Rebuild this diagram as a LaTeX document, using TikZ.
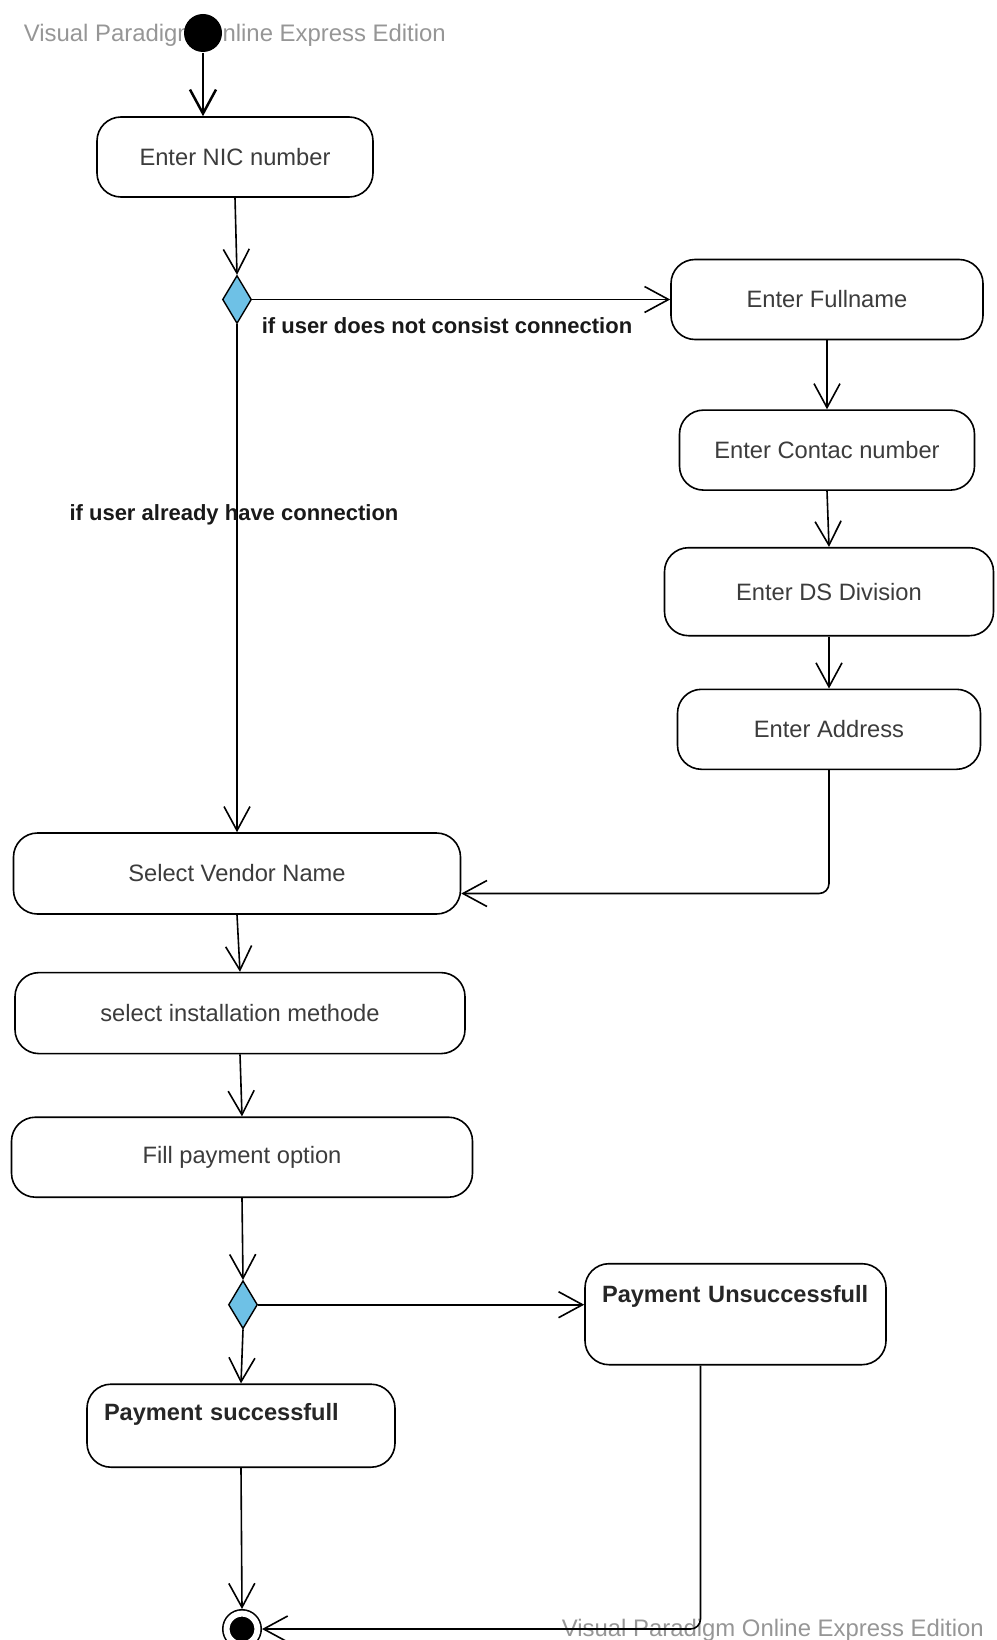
\documentclass[tikz,border=0pt]{standalone}
\usepackage{fontspec}
\setmainfont{Liberation Sans}
\usetikzlibrary{positioning}
\usetikzlibrary{shapes.geometric}
\usetikzlibrary{arrows.meta}
\definecolor{decblue}{RGB}{110,193,230}
\definecolor{txtgray}{RGB}{60,60,60}
\definecolor{wmgray}{RGB}{150,150,150}
\tikzset{>={Straight Barb[length=24pt,width=26pt]}}
\tikzset{act/.style={draw, rounded corners=24pt, line width=1.6pt, inner sep=0pt, fill=white, text=txtgray, font=\fontsize{23.7}{28}\selectfont}}
\tikzset{actb/.style={act, text=black!85, font=\bfseries\fontsize{23.6}{28}\selectfont, align=left, inner xsep=17pt, inner ysep=0pt}}
\tikzset{dec/.style={draw, diamond, fill=decblue, line width=1.4pt, inner sep=0pt, minimum width=29pt, minimum height=48pt}}
\tikzset{lbl/.style={inner sep=0pt, font=\bfseries\fontsize{22}{26}\selectfont, text=black!90}}
\tikzset{wm/.style={inner sep=0pt, anchor=base west, text=wmgray, font=\fontsize{23.9}{28}\selectfont}}

\begin{document}
\begin{tikzpicture}[x=1pt, y=-1pt, line width=1.6pt]
\useasboundingbox (0,0) rectangle (996,1640);
\node (wmtop) [wm] at (23,42) {Visual Paradigm Online Express Edition};
\node (wmbot) [wm] at (561,1636) {Visual Paradigm Online Express Edition};

\node (start) [circle, fill=black, minimum size=38pt, inner sep=0pt] at (203,33) {};
\node (nic) [act, minimum width=276pt, minimum height=80pt] at (235,157) {Enter NIC number};
\node (d1) [dec, below=77pt of nic, xshift=2pt] {};

\node (fullname) [act, minimum width=312pt, minimum height=80pt, right=418pt of d1] {Enter Fullname};
\node (contact) [act, minimum width=295pt, minimum height=80pt, below=69pt of fullname] {Enter Contac number};
\node (ds) [act, minimum width=329pt, minimum height=88pt, below=56pt of contact, xshift=2pt] {Enter DS Division};
\node (address) [act, minimum width=303pt, minimum height=80pt, below=52pt of ds] {Enter Address};

\node (vendor) [act, minimum width=447pt, minimum height=81pt, below=508pt of d1] {Select Vendor Name};
\node (install) [act, minimum width=450pt, minimum height=81pt, below=57pt of vendor, xshift=3pt] {select installation methode};
\node (fill) [act, minimum width=461pt, minimum height=80pt, below=62pt of install, xshift=2pt] {Fill payment option};
\node (d2) [dec, below=82pt of fill, xshift=1pt] {};

\node (unsucc) [actb, text width=267pt, text height=38.5pt, text depth=62.5pt, right=326pt of d2, yshift=-9.5pt] {Payment Unsuccessfull};
\node (success) [actb, text width=274pt, text height=36.5pt, text depth=46.5pt, below=54pt of d2, xshift=-2pt] {Payment successfull};
\node (end) [circle, fill=black, draw=black, double=white, double distance=6pt, minimum size=30.8pt, inner sep=0pt, outer sep=4.6pt, below=141pt of success, xshift=1pt] {};

\draw[->, line width=2.5pt] (start) -- (start |- nic.north);
\draw[->] (nic.south) -- (d1.north);
\draw[->] (d1.east) -- node[lbl, pos=0.466, anchor=base, yshift=-34pt] {if user does not consist connection} (fullname.west);
\draw[->] (d1.south) -- node[lbl, pos=0.386, anchor=base, xshift=-3pt] {if user already have connection} (vendor.north);
\draw[->] (fullname.south) -- (contact.north);
\draw[->] (contact.south) -- (ds.north);
\draw[->] (ds.south) -- (address.north);
\draw[->, rounded corners=10pt] (address.south) |- ([yshift=-20pt]vendor.east);
\draw[->] (vendor.south) -- (install.north);
\draw[->] (install.south) -- (fill.north);
\draw[->] (fill.south) -- (d2.north);
\draw[->] (d2.east) -- (d2.east -| unsucc.west);
\draw[->] (d2.south) -- (success.north);
\draw[->] (success.south) -- (end.north);
\draw[->, rounded corners=10pt] ([xshift=-35pt]unsucc.south) |- (end.east);
\end{tikzpicture}
\end{document}
